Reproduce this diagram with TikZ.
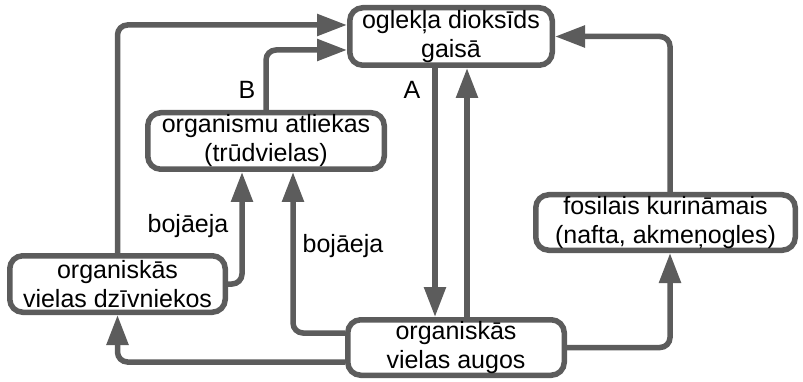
\documentclass[tikz,border=0pt]{standalone}
\usepackage{fontspec}
\setmainfont{Liberation Sans}
\usetikzlibrary{arrows.meta}
\definecolor{cyclegray}{rgb}{0.36, 0.36, 0.36}

\begin{document}
\begin{tikzpicture}[x=1pt, y=-1pt,
    stock/.style={draw=cyclegray, line width=5.5pt, rounded corners=13pt,
      align=center, inner sep=0pt, font=\fontsize{25}{29}\selectfont},
    flow/.style={cyclegray, line width=5.5pt, rounded corners=10pt,
      -{Triangle[length=30pt, width=21pt]}},
    tag/.style={font=\fontsize{25}{29}\selectfont}]
      \useasboundingbox (0,0) rectangle (803,382);

      \node [stock, minimum width=202.5pt, minimum height=57.5pt] (co2) at (451,36.5) {oglekļa dioksīds\\gaisā};
      \node [stock, minimum width=236.5pt, minimum height=56.5pt] (remains) at (266,141) {organismu atliekas\\(trūdvielas)};
      \node [stock, minimum width=259.5pt, minimum height=55.5pt] (fossil) at (665.5,222.5) {fosilais kurināmais\\(nafta, akmeņogles)};
      \node [stock, minimum width=215.5pt, minimum height=56.5pt] (animals) at (117.5,284) {organiskās\\vielas dzīvniekos};
      \node [stock, minimum width=216.5pt, minimum height=55.5pt] (plants) at (456,347.5) {organiskās\\vielas augos};

      % to the air
      \draw [flow] (animals.north) |- ([yshift=11.5pt]co2.west);
      \draw [flow] (remains.north) |- ([yshift=-13.5pt]co2.west);
      \draw [flow] ([xshift=4.5pt]fossil.north) |- (co2.east);
      \draw [flow] ([xshift=16pt]co2.south |- plants.north) -- ([xshift=16pt]co2.south);
      % from the air
      \draw [flow] ([xshift=-16pt]co2.south) -- ([xshift=-16pt]co2.south |- plants.north);
      % from the plants
      \draw [flow] (plants.east) -| ([xshift=4.5pt]fossil.south);
      \draw [flow] ([yshift=14.5pt]plants.west) -| ([xshift=27pt]remains.south);
      \draw [flow] ([yshift=-14.5pt]plants.west) -| (animals.south);
      \draw [flow] (animals.east) -| ([xshift=-24pt]remains.south);

      \node [tag] (labB) at (247,90) {B};
      \node [tag] (labA) at (412,90) {A};
      \node [tag] (decay1) at (188,226) {bojāeja};
      \node [tag] (decay2) at (343,246) {bojāeja};
\end{tikzpicture}
\end{document}
